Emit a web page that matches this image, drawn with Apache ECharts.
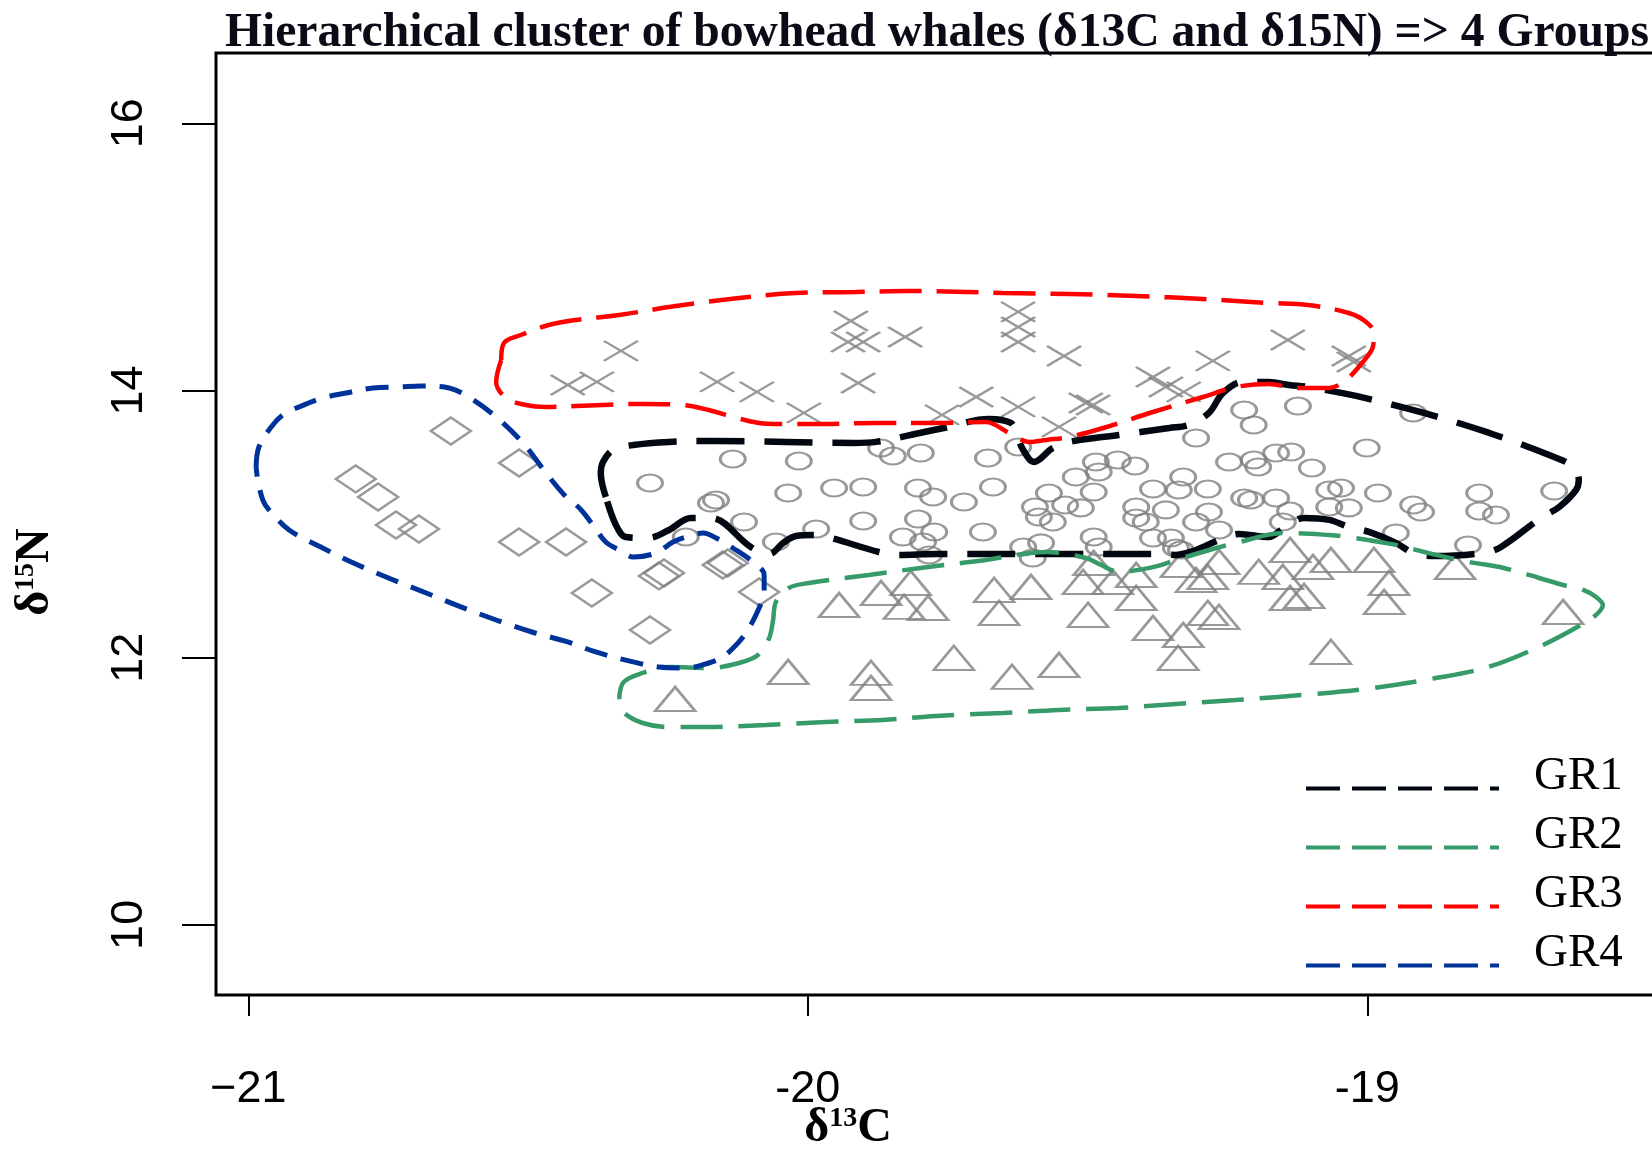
<!DOCTYPE html>
<html><head><meta charset="utf-8">
<script src="https://cdn.jsdelivr.net/npm/echarts@6/dist/echarts.min.js"></script>
<style>html,body{margin:0;padding:0;background:#fff}#c{width:1652px;height:1149px}</style>
</head><body><div id="c"></div>
<script>
const titleText = 'Hierarchical cluster of bowhead whales (δ13C and δ15N) => 4 Groups';
const xTicks = [-21, -20, -19];
const xTickLabels = ['−21', '-20', '-19'];
const yTicks = [10, 12, 14, 16];
const yTickLabels = ['10', '12', '14', '16'];
const groupNames = ['GR1', 'GR2', 'GR3', 'GR4'];

// GR1 points (circles)
const gr1Points = [[-20.134,13.487],[-20.016,13.472],[-19.869,13.570],[-19.848,13.510],[-19.798,13.532],[-20.282,13.308],[-20.173,13.158],[-20.164,13.180],[-20.035,13.233],[-19.953,13.270],[-19.901,13.278],[-19.803,13.270],[-19.776,13.203],[-20.114,13.016],[-20.218,12.903],[-20.057,12.866],[-19.985,12.963],[-19.901,13.023],[-19.803,13.038],[-19.830,12.903],[-19.794,12.866],[-19.774,12.941],[-19.783,12.769],[-19.678,13.495],[-19.624,13.577],[-19.669,13.278],[-19.721,13.165],[-19.485,13.465],[-19.446,13.480],[-19.415,13.435],[-19.521,13.353],[-19.480,13.390],[-19.489,13.240],[-19.569,13.233],[-19.594,13.128],[-19.540,13.143],[-19.512,13.121],[-19.306,13.644],[-19.329,13.353],[-19.383,13.263],[-19.337,13.255],[-19.285,13.263],[-19.247,13.465],[-19.203,13.742],[-19.220,13.854],[-19.124,13.884],[-19.203,13.480],[-19.195,13.427],[-19.163,13.532],[-19.136,13.540],[-19.220,13.195],[-19.208,13.180],[-19.163,13.195],[-19.138,13.098],[-19.562,13.016],[-19.587,13.053],[-19.413,13.046],[-19.396,13.016],[-19.413,13.128],[-19.360,13.106],[-19.306,13.016],[-19.283,13.091],[-19.265,12.956],[-19.151,13.016],[-19.687,12.941],[-19.489,12.903],[-19.480,12.829],[-19.615,12.829],[-19.583,12.859],[-19.598,12.746],[-19.383,12.896],[-19.351,12.896],[-19.342,12.821],[-19.333,12.806],[-19.068,13.128],[-19.033,13.121],[-18.918,13.143],[-18.904,13.091],[-18.800,13.233],[-18.800,13.098],[-18.770,13.068],[-18.949,12.933],[-18.820,12.844],[-19.001,13.570],[-19.099,13.420],[-19.068,13.255],[-19.047,13.270],[-18.981,13.233],[-18.918,13.832],[-18.666,13.248]];

// GR2 points (triangles)
const gr2Points = [[-19.944,12.394],[-19.869,12.484],[-19.816,12.559],[-19.828,12.380],[-19.785,12.372],[-20.035,11.893],[-19.887,11.886],[-19.887,11.773],[-20.237,11.691],[-19.667,12.507],[-19.601,12.529],[-19.658,12.335],[-19.508,12.567],[-19.489,12.709],[-19.455,12.567],[-19.413,12.619],[-19.413,12.447],[-19.499,12.320],[-19.333,12.694],[-19.265,12.716],[-19.306,12.582],[-19.285,12.604],[-19.194,12.642],[-19.138,12.806],[-19.151,12.604],[-19.138,12.447],[-19.113,12.462],[-19.285,12.335],[-19.265,12.305],[-19.383,12.222],[-19.329,12.170],[-19.338,11.998],[-19.739,11.998],[-19.551,11.945],[-19.635,11.856],[-19.065,12.731],[-19.097,12.679],[-18.988,12.731],[-18.961,12.559],[-18.970,12.417],[-18.843,12.679],[-18.650,12.342],[-19.065,12.043]];

// GR3 points (crosses)
const gr3Points = [[-20.429,14.041],[-20.377,14.064],[-20.334,14.296],[-20.162,14.064],[-20.091,13.989],[-20.007,13.832],[-19.923,14.520],[-19.928,14.363],[-19.901,14.363],[-19.826,14.400],[-19.910,14.056],[-19.760,13.817],[-19.624,14.588],[-19.624,14.475],[-19.624,14.363],[-19.542,14.258],[-19.699,13.951],[-19.624,13.877],[-19.503,13.906],[-19.490,13.891],[-19.551,13.727],[-19.383,14.101],[-19.360,14.026],[-19.328,13.989],[-19.276,14.221],[-19.142,14.378],[-19.033,14.258],[-19.024,14.213]];

// GR4 points (diamonds)
const gr4Points = [[-20.638,13.697],[-20.516,13.457],[-20.808,13.338],[-20.768,13.203],[-20.736,12.993],[-20.695,12.963],[-20.516,12.866],[-20.432,12.866],[-20.386,12.484],[-20.266,12.612],[-20.257,12.634],[-20.152,12.694],[-20.143,12.709],[-20.087,12.492],[-20.282,12.207]];

// Contours
const gr1Contour = [[-20.361,13.203],[-20.370,13.383],[-20.366,13.465],[-20.348,13.555],[-20.312,13.592],[-20.248,13.615],[-20.161,13.622],[-20.039,13.615],[-19.917,13.607],[-19.878,13.615],[-19.792,13.689],[-19.757,13.719],[-19.676,13.787],[-19.637,13.757],[-19.628,13.682],[-19.615,13.555],[-19.596,13.465],[-19.562,13.570],[-19.533,13.615],[-19.444,13.667],[-19.354,13.719],[-19.319,13.742],[-19.283,13.832],[-19.258,13.981],[-19.222,14.064],[-19.176,14.064],[-19.140,14.041],[-19.106,14.026],[-19.020,13.959],[-18.899,13.832],[-18.782,13.682],[-18.666,13.502],[-18.632,13.427],[-18.622,13.330],[-18.627,13.255],[-18.657,13.128],[-18.690,13.046],[-18.761,12.829],[-18.793,12.784],[-18.881,12.761],[-18.918,12.784],[-18.949,12.859],[-18.997,12.941],[-19.033,12.978],[-19.068,13.031],[-19.113,13.046],[-19.149,12.971],[-19.176,12.903],[-19.229,12.926],[-19.265,12.881],[-19.306,12.806],[-19.342,12.769],[-19.381,12.776],[-19.592,12.776],[-19.771,12.776],[-19.837,12.769],[-19.873,12.791],[-19.959,12.896],[-19.991,12.918],[-20.021,12.911],[-20.044,12.859],[-20.069,12.776],[-20.102,12.829],[-20.173,13.046],[-20.209,13.046],[-20.248,12.956],[-20.286,12.896],[-20.325,12.903],[-20.343,12.993],[-20.361,13.203]];
const gr2Contour = [[-20.337,11.698],[-20.329,11.818],[-20.295,11.886],[-20.248,11.930],[-20.177,11.923],[-20.123,11.960],[-20.089,12.020],[-20.069,12.147],[-20.062,12.282],[-20.057,12.417],[-20.034,12.522],[-19.998,12.559],[-19.891,12.619],[-19.785,12.679],[-19.682,12.731],[-19.628,12.769],[-19.574,12.791],[-19.503,12.746],[-19.476,12.694],[-19.444,12.642],[-19.408,12.657],[-19.374,12.687],[-19.342,12.731],[-19.270,12.821],[-19.235,12.859],[-19.149,12.933],[-19.068,12.918],[-19.033,12.903],[-18.949,12.844],[-18.877,12.769],[-18.818,12.716],[-18.756,12.671],[-18.650,12.544],[-18.614,12.507],[-18.591,12.454],[-18.579,12.394],[-18.591,12.320],[-18.618,12.245],[-18.686,12.095],[-18.784,11.930],[-18.886,11.841],[-18.990,11.773],[-19.095,11.728],[-19.235,11.683],[-19.342,11.653],[-19.444,11.624],[-19.551,11.609],[-19.651,11.586],[-19.771,11.564],[-19.866,11.534],[-19.968,11.519],[-20.075,11.496],[-20.182,11.481],[-20.248,11.481],[-20.295,11.511],[-20.330,11.594],[-20.337,11.698]];
const gr3Contour = [[-20.548,14.228],[-20.543,14.356],[-20.513,14.415],[-20.463,14.490],[-20.414,14.528],[-20.337,14.565],[-20.236,14.632],[-20.123,14.692],[-20.021,14.730],[-19.914,14.737],[-19.819,14.745],[-19.651,14.730],[-19.533,14.722],[-19.413,14.707],[-19.294,14.685],[-19.176,14.655],[-19.106,14.640],[-19.033,14.580],[-19.002,14.513],[-18.988,14.430],[-18.990,14.326],[-19.008,14.213],[-19.038,14.079],[-19.068,14.019],[-19.127,14.019],[-19.176,14.049],[-19.235,14.026],[-19.294,13.951],[-19.383,13.839],[-19.472,13.719],[-19.533,13.652],[-19.574,13.630],[-19.605,13.615],[-19.640,13.682],[-19.682,13.764],[-19.771,13.757],[-19.878,13.757],[-19.968,13.749],[-20.051,13.749],[-20.087,13.757],[-20.134,13.802],[-20.177,13.854],[-20.223,13.891],[-20.295,13.899],[-20.414,13.884],[-20.468,13.876],[-20.504,13.891],[-20.539,13.944],[-20.557,14.064],[-20.548,14.228]];
const gr4Contour = [[-20.986,13.427],[-20.981,13.577],[-20.959,13.727],[-20.938,13.817],[-20.909,13.877],[-20.867,13.944],[-20.825,13.981],[-20.777,14.019],[-20.731,14.026],[-20.691,14.034],[-20.641,14.019],[-20.606,13.951],[-20.557,13.802],[-20.509,13.607],[-20.468,13.383],[-20.432,13.203],[-20.414,13.143],[-20.402,13.091],[-20.384,12.993],[-20.361,12.866],[-20.337,12.806],[-20.312,12.754],[-20.271,12.784],[-20.241,12.866],[-20.218,12.903],[-20.187,12.933],[-20.164,12.896],[-20.134,12.821],[-20.098,12.716],[-20.078,12.619],[-20.078,12.484],[-20.087,12.372],[-20.105,12.222],[-20.123,12.118],[-20.152,12.005],[-20.177,11.960],[-20.218,11.923],[-20.266,11.930],[-20.312,11.968],[-20.379,12.043],[-20.429,12.118],[-20.493,12.192],[-20.557,12.282],[-20.620,12.380],[-20.682,12.484],[-20.745,12.589],[-20.808,12.701],[-20.867,12.821],[-20.927,12.956],[-20.963,13.106],[-20.974,13.180],[-20.983,13.330],[-20.986,13.427]];

const markerGray = '#808080';
const hollow = 'rgba(0,0,0,0)';
function pointSeries(name, data, symbol, size) {
  return {
    name: name, type: 'scatter', data: data, symbol: symbol, symbolSize: size, z: 2,
    itemStyle: { color: hollow, borderColor: markerGray, borderWidth: 2.5 },
    emphasis: { disabled: true }
  };
}
function contourSeries(name, data, color, width, dash) {
  return {
    name: name, type: 'line', data: data, smooth: 0.35, symbol: 'none', z: 3,
    lineStyle: { color: color, width: width, type: dash },
    itemStyle: { color: color }, emphasis: { disabled: true }
  };
}
const nameRich = {
  d: { fontFamily: 'Liberation Serif', fontWeight: 'bold', fontSize: 48, color: '#000' },
  s: { fontFamily: 'Liberation Serif', fontWeight: 'bold', fontSize: 28, color: '#000', verticalAlign: 'top' },
  n: { fontFamily: 'Liberation Serif', fontWeight: 'bold', fontSize: 48, color: '#000' }
};

const chart = echarts.init(document.getElementById('c'), null, { renderer: 'canvas' });
chart.setOption({
  animation: false,
  backgroundColor: '#ffffff',
  title: {
    text: titleText, left: 225, top: 10, padding: 0,
    textStyle: { fontFamily: 'Liberation Serif', fontWeight: 'bold', fontSize: 47.6, color: '#0b0b18' }
  },
  grid: { left: 216, top: 53, width: 1466, height: 942, outerBoundsMode: 'none', containLabel: false,
    show: true, borderColor: '#000', borderWidth: 3, backgroundColor: 'rgba(0,0,0,0)' },
  xAxis: {
    type: 'value', min: -21.0577, max: -18.4375,
    splitLine: { show: false }, axisLine: { show: false },
    axisTick: { show: true, customValues: xTicks, length: 21, lineStyle: { color: '#000', width: 2 } },
    axisLabel: { customValues: xTicks, formatter: v => xTickLabels[xTicks.indexOf(v)], margin: 72,
      fontFamily: 'Liberation Sans', fontSize: 45, color: '#000' },
    name: '{d|δ}{s|13}{n|C}', nameLocation: 'middle', nameGap: 110, nameMoveOverlap: false,
    nameTextStyle: { padding: [0, 202, 0, 0], rich: nameRich }
  },
  yAxis: {
    type: 'value', min: 9.475, max: 16.526,
    splitLine: { show: false }, axisLine: { show: false },
    axisTick: { show: true, customValues: yTicks, length: 34, lineStyle: { color: '#000', width: 2 } },
    axisLabel: { customValues: yTicks, formatter: v => yTickLabels[yTicks.indexOf(v)], rotate: 90, margin: 64,
      fontFamily: 'Liberation Sans', fontSize: 45, color: '#000' },
    name: '{d|δ}{s|15}{n|N}', nameLocation: 'middle', nameRotate: 90, nameGap: 156, nameMoveOverlap: false,
    nameTextStyle: { padding: [0, 96, 0, 0], rich: nameRich }
  },
  legend: {
    orient: 'vertical', left: 1304, top: 753, padding: 0,
    itemWidth: 193, itemHeight: 14, itemGap: -12, selectedMode: false,
    data: groupNames,
    lineStyle: { width: 4, type: [34, 12] },
    itemStyle: { opacity: 0 },
    formatter: '{t|{name}}',
    textStyle: { rich: { t: { fontFamily: 'Liberation Serif', fontSize: 47, color: '#000', lineHeight: 30, padding: [0, 0, 24, 30] } } }
  },
  series: [
    pointSeries('pts1', gr1Points, 'circle', [25, 17]),
    pointSeries('pts2', gr2Points, 'triangle', [40, 24]),
    pointSeries('pts3', gr3Points, 'path://M0,0L10,10M0,10L10,0', [34, 20]),
    pointSeries('pts4', gr4Points, 'diamond', [40, 27]),
    contourSeries(groupNames[0], gr1Contour, '#010812', 6.5, [48, 20]),
    contourSeries(groupNames[1], gr2Contour, '#369b68', 4.5, [42, 16]),
    contourSeries(groupNames[2], gr3Contour, '#ff0000', 4.5, [42, 15]),
    contourSeries(groupNames[3], gr4Contour, '#003399', 5, [23, 14])
  ]
});
</script></body></html>
